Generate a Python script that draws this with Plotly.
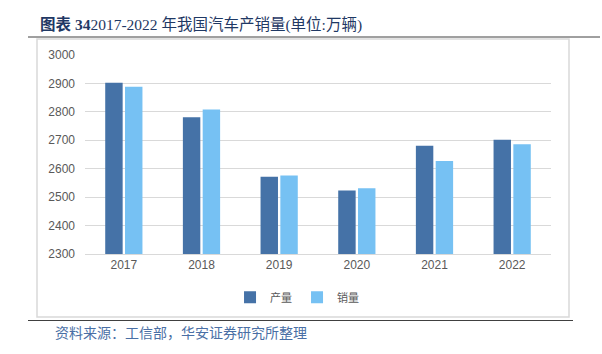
import plotly.graph_objects as go

years = ["2017", "2018", "2019", "2020", "2021", "2022"]
production = [2902, 2781, 2572, 2523, 2681, 2702]
sales = [2888, 2808, 2576, 2531, 2627, 2686]
series_names = ["产量", "销量"]
title_prefix = "图表 34"
title_main = "2017-2022 年我国汽车产销量(单位:万辆)"
source_text = "资料来源：工信部，华安证券研究所整理"

dark = "#4572A7"
light = "#76C1F3"
W, H = 602, 354
cjk = "Noto Sans CJK SC"
serif = "Liberation Serif, Noto Sans CJK SC"

fig = go.Figure()
fig.add_trace(go.Bar(x=years, y=production, name=series_names[0], marker_color=dark,
                     marker_line_width=0, showlegend=False))
fig.add_trace(go.Bar(x=years, y=sales, name=series_names[1], marker_color=light,
                     marker_line_width=0, showlegend=False))
# legend proxies with small square markers
fig.add_trace(go.Scatter(x=[None], y=[None], mode="markers", name=series_names[0],
                         marker=dict(symbol="square", size=7, color=dark)))
fig.add_trace(go.Scatter(x=[None], y=[None], mode="markers", name=series_names[1],
                         marker=dict(symbol="square", size=7, color=light)))

fig.update_layout(
    width=W, height=H,
    margin=dict(l=85, r=51, t=55, b=100),
    paper_bgcolor="white", plot_bgcolor="white",
    barmode="group", bargap=0.49, bargroupgap=0.12,
    font=dict(family="Liberation Sans, Arial", color="#595959", size=12),
    legend=dict(orientation="h", x=0.455, xanchor="center", y=-0.145, yanchor="top",
                font=dict(family=cjk, size=11, color="#595959"),
                itemwidth=30, tracegroupgap=0, itemsizing="constant"),
    xaxis=dict(showgrid=False, showline=True, linecolor="#d9d9d9", linewidth=1,
               ticks="", tickfont=dict(size=12, color="#595959")),
    yaxis=dict(range=[2300, 3000], dtick=100, tick0=2300, showgrid=True,
               gridcolor="#d9d9d9", gridwidth=1, zeroline=False, showline=False,
               ticks="", ticklabelstandoff=9, tickfont=dict(size=12, color="#595959")),
    showlegend=True,
)

# chart frame
fig.add_shape(type="rect", xref="paper", yref="paper",
              x0=(37 - 85) / 466, x1=(569 - 85) / 466,
              y0=(254 - 317) / 199, y1=(254 - 39) / 199,
              line=dict(color="#d9d9d9", width=1.5), layer="below")
# title underline
fig.add_shape(type="line", xref="paper", yref="paper",
              x0=(28 - 85) / 466, x1=(600 - 85) / 466,
              y0=(254 - 37) / 199, y1=(254 - 37) / 199,
              line=dict(color="#404040", width=1))
# footer line
fig.add_shape(type="line", xref="paper", yref="paper",
              x0=(28 - 85) / 466, x1=(573 - 85) / 466,
              y0=(254 - 320.5) / 199, y1=(254 - 320.5) / 199,
              line=dict(color="#404040", width=1))

fig.add_annotation(xref="paper", yref="paper", x=(38 - 85) / 466, y=(254 - 25) / 199,
                   xanchor="left", yanchor="middle", showarrow=False,
                   text=f"<b>{title_prefix}</b>{title_main}",
                   font=dict(family=serif, size=15.5, color="#1F3864"))
fig.add_annotation(xref="paper", yref="paper", x=(53 - 85) / 466, y=(254 - 332) / 199,
                   xanchor="left", yanchor="middle", showarrow=False,
                   text=source_text,
                   font=dict(family=cjk, size=14, color="#4A6FA5"))

fig.write_html("out.html")
